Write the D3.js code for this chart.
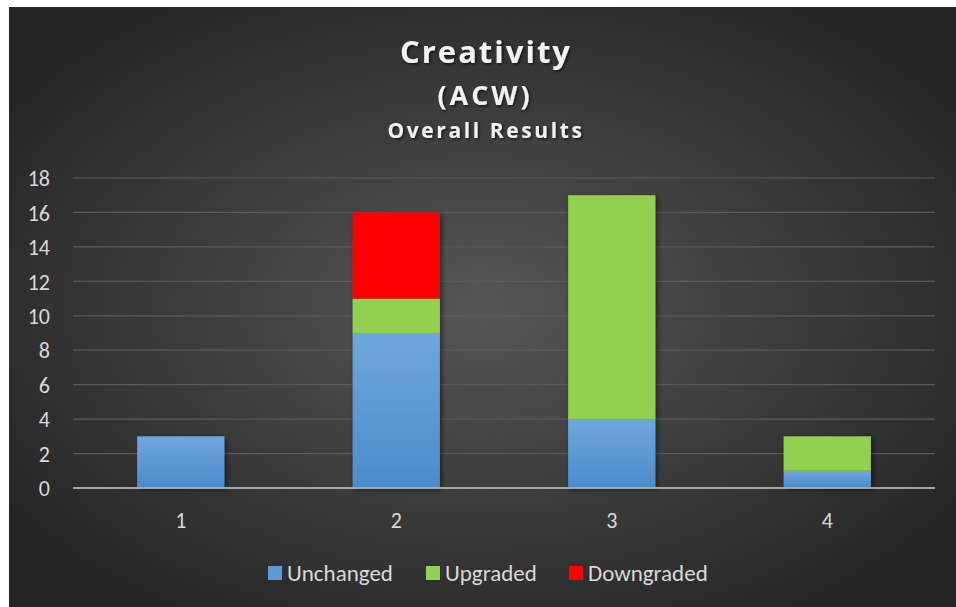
<!DOCTYPE html>
<html><head><meta charset="utf-8">
<script src="https://cdn.jsdelivr.net/npm/d3@7"></script>
<style>html,body{margin:0;padding:0;background:#fff;}svg{display:block;}</style>
</head><body>
<svg id="chart" width="956" height="607"></svg>
<script>
const categories = ["1", "2", "3", "4"];
const seriesNames = ["Unchanged", "Upgraded", "Downgraded"];
const unchanged = [3, 9, 4, 1];
const upgraded = [0, 2, 13, 2];
const downgraded = [0, 5, 0, 0];
const yTicks = [0, 2, 4, 6, 8, 10, 12, 14, 16, 18];
const colors = ["#5b9bd5", "#92d050", "#ff0000"];

const svg = d3.select("#chart");
const defs = svg.append("defs");
const bg = defs.append("radialGradient").attr("id", "bg").attr("cx", "50%").attr("cy", "50%").attr("r", "60%");
bg.append("stop").attr("offset", "0%").attr("stop-color", "#565656");
bg.append("stop").attr("offset", "100%").attr("stop-color", "#262626");
const blue = defs.append("linearGradient").attr("id", "blueg").attr("x1", 0).attr("y1", 0).attr("x2", 0).attr("y2", 1);
blue.append("stop").attr("offset", "0%").attr("stop-color", "#70a6dd");
blue.append("stop").attr("offset", "100%").attr("stop-color", "#4a8ccb");
const sh = defs.append("filter").attr("id", "shadow").attr("x", "-20%").attr("y", "-20%").attr("width", "140%").attr("height", "140%");
sh.append("feDropShadow").attr("dx", 2).attr("dy", 2).attr("stdDeviation", 2.5).attr("flood-color", "#000").attr("flood-opacity", 0.5);
const tsh = defs.append("filter").attr("id", "tshadow").attr("x", "-10%").attr("y", "-20%").attr("width", "120%").attr("height", "140%");
tsh.append("feDropShadow").attr("dx", 1.5).attr("dy", 1.5).attr("stdDeviation", 1.2).attr("flood-color", "#000").attr("flood-opacity", 0.6);

svg.append("rect").attr("x", 9).attr("y", 7).attr("width", 947).attr("height", 600).attr("fill", "url(#bg)");

const margin = {left: 73, right: 935, top: 178, bottom: 488};
const x = d3.scaleBand().domain(categories).range([margin.left, margin.right]).paddingInner(0.595).paddingOuter(0.2975);
const y = d3.scaleLinear().domain([0, 18]).range([margin.bottom, margin.top]);
const font = "Calibri, Carlito, 'Open Sans', sans-serif";

// gridlines
svg.append("g").selectAll("line").data(yTicks.filter(d => d > 0)).join("line")
  .attr("x1", margin.left).attr("x2", margin.right)
  .attr("y1", d => y(d)).attr("y2", d => y(d))
  .attr("stroke", "#5a5a5a").attr("stroke-width", 1.2);

// y axis labels
const yAxis = d3.axisLeft(y).tickValues(yTicks).tickSize(0).tickPadding(0);
const ya = svg.append("g").attr("transform", `translate(50,0)`).call(yAxis);
ya.select(".domain").remove();
ya.selectAll("text").attr("fill", "#d9d9d9").attr("font-family", font).attr("font-size", 22).attr("text-anchor", "end").attr("dx", 0).attr("dy", "0.35em");

// stacked data
const table = categories.map((c, i) => ({cat: c, Unchanged: unchanged[i], Upgraded: upgraded[i], Downgraded: downgraded[i]}));
const stack = d3.stack().keys(seriesNames)(table);
const fills = ["url(#blueg)", colors[1], colors[2]];
const gBars = svg.append("g").attr("filter", "url(#shadow)");
stack.forEach((layer, li) => {
  gBars.selectAll(null).data(layer.filter(d => d[1] > d[0])).join("rect")
    .attr("x", d => x(d.data.cat)).attr("width", x.bandwidth())
    .attr("y", d => y(d[1])).attr("height", d => y(d[0]) - y(d[1]))
    .attr("fill", fills[li]);
});

// x axis line
svg.append("line").attr("x1", margin.left).attr("x2", margin.right)
  .attr("y1", y(0)).attr("y2", y(0)).attr("stroke", "#a6a6a6").attr("stroke-width", 2);

const xAxis = d3.axisBottom(x).tickSize(0).tickPadding(0);
const xa = svg.append("g").attr("transform", `translate(0,${y(0) + 40})`).call(xAxis);
xa.select(".domain").remove();
xa.selectAll("text").attr("fill", "#d9d9d9").attr("font-family", font).attr("font-size", 22).attr("dy", 0);

// titles
const tg = svg.append("g").attr("filter", "url(#tshadow)").attr("fill", "#f2f2f2").attr("font-family", "'Open Sans', sans-serif").attr("font-weight", "bold").attr("text-anchor", "middle");
tg.append("text").attr("x", 486).attr("y", 63).attr("font-size", 31).attr("letter-spacing", 2).text("Creativity");
tg.append("text").attr("x", 485).attr("y", 105).attr("font-size", 27).attr("letter-spacing", 3).text("(ACW)");
tg.append("text").attr("x", 486).attr("y", 138).attr("font-size", 21).attr("letter-spacing", 2.6).text("Overall Results");

// legend
const legendItems = [{n: "Unchanged", c: colors[0], x: 268}, {n: "Upgraded", c: colors[1], x: 426}, {n: "Downgraded", c: colors[2], x: 569}];
const lg = svg.append("g");
legendItems.forEach(d => {
  lg.append("rect").attr("x", d.x).attr("y", 566).attr("width", 14).attr("height", 14).attr("fill", d.c);
  lg.append("text").attr("x", d.x + 19).attr("y", 581).attr("fill", "#d9d9d9")
    .attr("font-family", font).attr("font-size", 23).text(d.n);
});
</script>
</body></html>
